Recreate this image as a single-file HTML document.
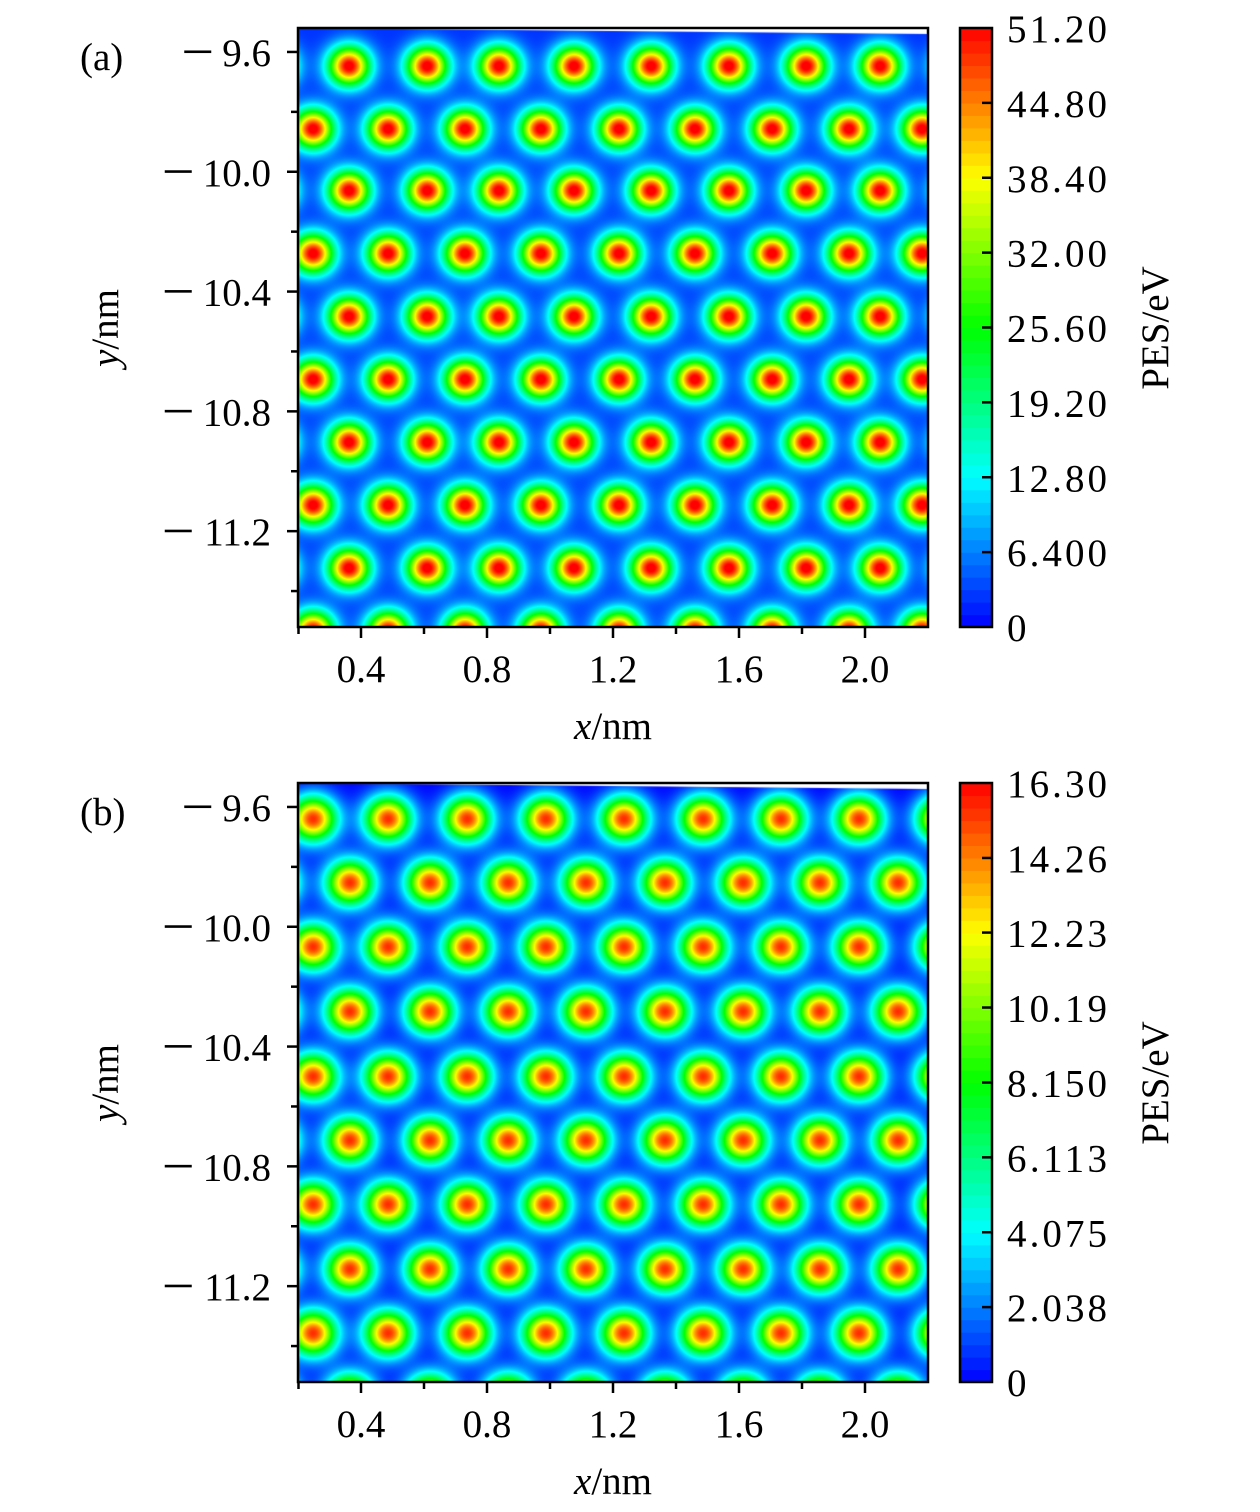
<!DOCTYPE html>
<html><head><meta charset="utf-8"><style>
html,body{margin:0;padding:0;background:#fff;}
#wrap{position:relative;width:1260px;height:1512px;overflow:hidden;}
canvas{position:absolute;}
svg{position:absolute;left:0;top:0;}
text{font-family:"Liberation Serif",serif;fill:#000;}
</style></head><body>
<div id="wrap">
<canvas id="ca" width="630" height="599" style="left:298px;top:28px"></canvas>
<canvas id="cb" width="630" height="599" style="left:298px;top:783px"></canvas>
<svg id="svg" width="1260" height="1512"></svg>
</div>
<script>
// ---- data ----
const xTicks=[0.4,0.8,1.2,1.6,2.0];
const xTickLabels=["0.4","0.8","1.2","1.6","2.0"];
const yTicks=[-9.6,-10.0,-10.4,-10.8,-11.2];
const yTickLabels=["9.6","10.0","10.4","10.8","11.2"];
const cbTicksA=[0,6.4,12.8,19.2,25.6,32.0,38.4,44.8,51.2];
const cbLabelsA=["0","6.400","12.80","19.20","25.60","32.00","38.40","44.80","51.20"];
const cbTicksB=[0,2.038,4.075,6.113,8.150,10.19,12.23,14.26,16.30];
const cbLabelsB=["0","2.038","4.075","6.113","8.150","10.19","12.23","14.26","16.30"];
// peak lattice (nm)
const rowsA=[-9.647,-9.857,-10.063,-10.273,-10.483,-10.693,-10.903,-11.113,-11.323,-11.533];
const colsA_odd=[0.12,0.362,0.610,0.838,1.076,1.321,1.568,1.813,2.048,2.29];
const colsA_even=[0.248,0.486,0.730,0.971,1.219,1.460,1.705,1.949,2.181];
const rowsB=[-9.640,-9.853,-10.067,-10.283,-10.500,-10.713,-10.927,-11.143,-11.357,-11.570];
const colsB_0=[0.248,0.486,0.737,0.987,1.235,1.486,1.733,1.981,2.241];
const colsB_1=[0.12,0.365,0.619,0.867,1.114,1.365,1.613,1.857,2.105,2.35];
const peakA=50.5, baseA=2.5, sigmaA=0.046;
const peakB=15.6, baseB=0, sigmaB=0.052;
const maxA=51.2, maxB=16.30;

const X0=0.2,X1=2.2,Y0=-9.52,Y1=-11.52;
const PL=298,PR=928,PH=599;
function sx(x){return PL+(x-X0)/(X1-X0)*(PR-PL);}
function syRel(y){return (y-Y0)/(Y1-Y0)*PH;}

function jet(t){t=Math.max(0,Math.min(1,t));
 const s=[[0,0,255],[0,255,255],[0,255,0],[255,255,0],[255,0,0]];
 const f=t*4,i=Math.min(3,Math.floor(f)),u=f-i;
 return s[i].map((c,k)=>Math.round(c+(s[i+1][k]-c)*u));}

function drawMap(id,rows,colsE,colsO,peak,base,sig,vmax){
 const cv=document.getElementById(id),ctx=cv.getContext('2d');
 const img=ctx.createImageData(630,599);
 const pts=[];
 rows.forEach((y,i)=>{(i%2===0?colsE:colsO).forEach(x=>pts.push([x,y]));});
 for(let py=0;py<599;py++){const y=Y0+(py+0.5)/PH*(Y1-Y0);
  for(let px=0;px<630;px++){const x=X0+(px+0.5)/630*(X1-X0);
   let v=base;
   for(const p of pts){const dx=x-p[0],dy=y-p[1];const r2=dx*dx+dy*dy;if(r2<0.04)v+=peak*Math.exp(-r2/(2*sig*sig));}
   const c=jet(v/vmax);const o=(py*630+px)*4;
   img.data[o]=c[0];img.data[o+1]=c[1];img.data[o+2]=c[2];img.data[o+3]=255;}}
 ctx.putImageData(img,0,0);
 ctx.fillStyle='#fff';ctx.beginPath();ctx.moveTo(0,0);ctx.lineTo(630,0);ctx.lineTo(630,6);ctx.closePath();ctx.fill();
}
drawMap('ca',rowsA,colsA_odd,colsA_even,peakA,baseA,sigmaA,maxA);
drawMap('cb',rowsB,colsB_0,colsB_1,peakB,baseB,sigmaB,maxB);

const svg=document.getElementById('svg');const NS='http://www.w3.org/2000/svg';
function el(t,a,txt){const e=document.createElementNS(NS,t);for(const k in a)e.setAttribute(k,a[k]);if(txt!==undefined)e.textContent=txt;svg.appendChild(e);return e;}
const FS=39;
function panel(top,label,cbT,cbL,vmax,tag){
 const bottom=top+PH;
 let e=el('rect',{x:PL,y:top,width:PR-PL,height:PH,fill:'none',stroke:'#000','stroke-width':2.5});
 
 xTicks.forEach((v,i)=>{const x=sx(v);
  el('line',{x1:x,y1:bottom,x2:x,y2:bottom+11,stroke:'#000','stroke-width':2.5});
  e=el('text',{x:x,y:bottom+55,'font-size':FS,'text-anchor':'middle'},xTickLabels[i]);
  
  const m=sx(v+0.2);if(m<PR)el('line',{x1:m,y1:bottom,x2:m,y2:bottom+7,stroke:'#000','stroke-width':2.5});});
 el('line',{x1:sx(0.2)+0.5,y1:bottom,x2:sx(0.2)+0.5,y2:bottom+7,stroke:'#000','stroke-width':2.5});
 yTicks.forEach((v,i)=>{const y=top+syRel(v);
  el('line',{x1:PL-11,y1:y,x2:PL,y2:y,stroke:'#000','stroke-width':2.5});
  e=el('text',{x:271,y:y+14,'font-size':FS,'text-anchor':'end'},yTickLabels[i]);
  
  const w=yTickLabels[i].length*FS*0.5-FS*0.25;
  e=el('rect',{x:271-w-38,y:y-1.5,width:27,height:2.6,fill:'#000'});
  
  const m=top+syRel(v-0.2);if(m<bottom)el('line',{x1:PL-7,y1:m,x2:PL,y2:m,stroke:'#000','stroke-width':2.5});});
 e=el('text',{x:613,y:bottom+112,'font-size':FS,'text-anchor':'middle'});
 e.innerHTML='<tspan font-style="italic">x</tspan>/nm';
 
 e=el('text',{x:0,y:0,'font-size':FS,'text-anchor':'middle',transform:`translate(118,${top+300}) rotate(-90)`});
 e.innerHTML='<tspan font-style="italic">y</tspan>/nm';
 
 e=el('text',{x:80,y:top+42,'font-size':FS},label);
 
 const N=48,cx=960,cw=32;
 for(let k=0;k<N;k++){const c=jet((k+0.5)/N);
  e=el('rect',{x:cx,y:bottom-(k+1)*PH/N,width:cw,height:PH/N+0.6,fill:`rgb(${c})`});
  }
 e=el('rect',{x:cx,y:top,width:cw,height:PH,fill:'none',stroke:'#000','stroke-width':2.5});
 
 cbT.forEach((v,i)=>{const y=bottom-v/vmax*PH;
  if(i>0&&i<cbT.length-1)el('line',{x1:cx+cw-10,y1:y,x2:cx+cw,y2:y,stroke:'#000','stroke-width':2.5});
  e=el('text',{x:1007,y:y+14,'font-size':FS,textLength:cbL[i].length>1?100:20,lengthAdjust:'spacing'},cbL[i]);
  });
 e=el('text',{x:0,y:0,'font-size':FS,'text-anchor':'middle',transform:`translate(1168,${top+300}) rotate(-90)`},'PES/eV');
 
}
panel(28,'(a)',cbTicksA,cbLabelsA,maxA,'a');
panel(783,'(b)',cbTicksB,cbLabelsB,maxB,'b');
</script>
</body></html>
